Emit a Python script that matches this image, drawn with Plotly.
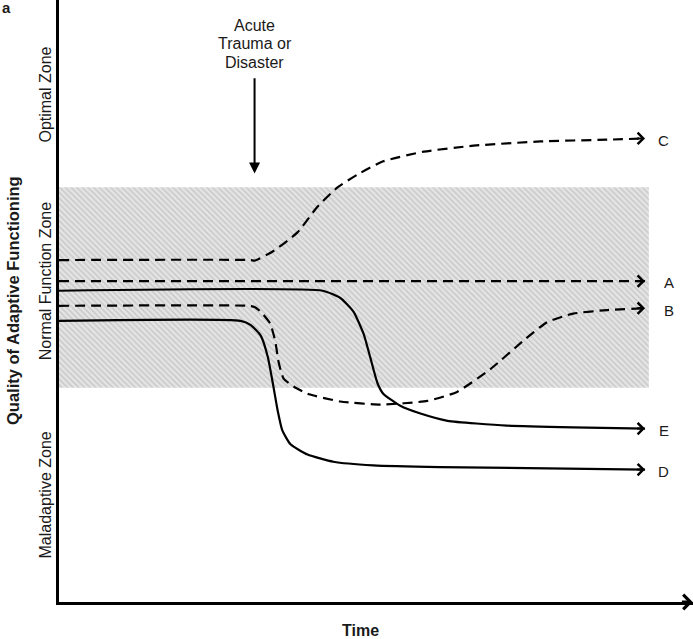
import plotly.graph_objects as go

# ---- data (time 0-100, quality 0-100) ----
c_t = [0, 30.4, 31.0, 34.0, 37.8, 41.0, 44.2, 47.3, 51.4, 57.8, 65.7, 76.3, 86.9, 92.9]
c_q = [56.8, 56.8, 56.7, 58.3, 61.4, 65.7, 68.9, 71.0, 73.2, 74.8, 75.8, 76.5, 76.8, 77.0]

a_t = [0, 92.9]
a_q = [53.3, 53.3]

b_t = [0, 30.0, 31.0, 32.0, 33.5, 34.3, 34.8, 35.6, 37.2, 39.4, 44.6, 51.0, 58.4, 63.1, 68.4, 73.6, 77.4, 81.5, 86.9, 92.9]
b_q = [49.2, 49.2, 49.0, 48.2, 46.2, 43.2, 39.9, 37.1, 35.8, 34.6, 33.3, 32.8, 33.4, 34.9, 38.7, 43.4, 46.5, 47.9, 48.5, 48.8]

e_t = [0, 41.8, 44.6, 46.7, 48.3, 49.4, 50.5, 51.4, 54.1, 57.3, 61.6, 71.0, 81.5, 92.9]
e_q = [51.7, 51.7, 50.5, 48.2, 44.5, 40.4, 36.3, 34.6, 32.6, 31.3, 30.1, 29.3, 29.0, 28.8]

d_t = [0, 28.8, 30.4, 32.0, 33.1, 33.9, 34.7, 35.4, 36.7, 39.4, 43.5, 49.8, 60.4, 92.9]
d_q = [46.7, 46.7, 46.0, 44.2, 40.7, 36.3, 31.6, 28.5, 26.2, 24.5, 23.3, 22.7, 22.4, 22.0]

band_t = [0, 93.5]
band_q = [35.6, 68.9]

curve_labels = ["C", "A", "B", "E", "D"]
label_t = [95.9, 96.7, 96.7, 95.9, 95.9]

event_t = 31.0
event_q = [87.25, 71.2]
event_lines = ["Acute", "Trauma or", "Disaster"]
event_line_q = [95.7, 92.7, 89.6]

zone_names = ["Optimal Zone", "Normal Function Zone", "Maladaptive Zone"]
zone_pos = [0.843, 0.533, 0.177]

FONT = "Liberation Sans, Arial, sans-serif"
TXT = "#1a1a1a"

fig = go.Figure()

# hatched normal-function band
fig.add_trace(go.Scatter(
    x=[band_t[0], band_t[1], band_t[1], band_t[0], band_t[0]],
    y=[band_q[0], band_q[0], band_q[1], band_q[1], band_q[0]],
    fill="toself", mode="lines", line=dict(width=0),
    fillcolor="rgba(0,0,0,0)",
    fillpattern=dict(shape="\\", fgcolor="#a8a8a8", bgcolor="#e4e4e4",
                     size=4, solidity=0.35),
    hoverinfo="skip", showlegend=False))

series = [
    (c_t, c_q, "dash"),
    (a_t, a_q, "dash"),
    (b_t, b_q, "dash"),
    (e_t, e_q, "solid"),
    (d_t, d_q, "solid"),
]
dash_style = "10px,6px"
for t, q, st in series:
    fig.add_trace(go.Scatter(
        x=t, y=q, mode="lines",
        line=dict(color="black", width=2.2,
                  dash=dash_style if st == "dash" else "solid",
                  shape="spline", smoothing=0.5),
        hoverinfo="skip", showlegend=False))

annotations = []
# arrowheads + end labels
for (t, q, st), lab, lt in zip(series, curve_labels, label_t):
    annotations.append(dict(
        x=t[-1], y=q[-1], xref="x", yref="y",
        ax=t[-1] - 1.5, ay=q[-1], axref="x", ayref="y",
        text="", showarrow=True, arrowhead=4, arrowsize=1.1,
        arrowwidth=2, arrowcolor="black", standoff=0, startstandoff=0))
    annotations.append(dict(
        x=lt, y=q[-1] - 0.3, xref="x", yref="y", text=lab, showarrow=False,
        xanchor="center", yanchor="middle",
        font=dict(family=FONT, size=15, color=TXT)))

# time axis arrowhead
annotations.append(dict(
    x=100.45, y=0, xref="x", yref="y", ax=98.5, ay=0, axref="x", ayref="y",
    text="", showarrow=True, arrowhead=4, arrowsize=1.0, arrowwidth=2.8,
    arrowcolor="black", standoff=0, startstandoff=0))

# event arrow
annotations.append(dict(
    x=event_t, y=event_q[1], xref="x", yref="y",
    ax=event_t, ay=event_q[0], axref="x", ayref="y",
    text="", showarrow=True, arrowhead=2, arrowsize=1.1, arrowwidth=2,
    arrowcolor="black", standoff=0, startstandoff=0))
for line, lq in zip(event_lines, event_line_q):
    annotations.append(dict(
        x=event_t, y=lq, xref="x", yref="y", text=line,
        xanchor="center", yanchor="middle",
        showarrow=False, font=dict(family=FONT, size=16, color=TXT)))

# zone labels
for name, zp in zip(zone_names, zone_pos):
    annotations.append(dict(
        x=-0.022, y=zp, xref="paper", yref="paper", text=name, textangle=-90,
        xanchor="center", yanchor="middle",
        showarrow=False, font=dict(family=FONT, size=16, color=TXT)))

annotations.append(dict(
    x=-0.0725, y=0.5, xref="paper", yref="paper",
    text="<b>Quality of Adaptive Functioning</b>",
    xanchor="center", yanchor="middle",
    textangle=-90, showarrow=False, font=dict(family=FONT, size=16.5, color=TXT)))
annotations.append(dict(
    x=0.476, y=-0.048, xref="paper", yref="paper", text="<b>Time</b>",
    xanchor="center", yanchor="middle",
    showarrow=False, font=dict(family=FONT, size=16, color=TXT)))
annotations.append(dict(
    x=-0.083, y=0.988, xref="paper", yref="paper", text="<b>a</b>",
    xanchor="center", yanchor="middle",
    showarrow=False, font=dict(family=FONT, size=15, color=TXT)))

fig.update_layout(
    width=693, height=639,
    margin=dict(l=59, r=0, t=0, b=37),
    paper_bgcolor="white", plot_bgcolor="white",
    showlegend=False,
    annotations=annotations,
    xaxis=dict(range=[0, 100.5], showgrid=False, zeroline=False,
               showticklabels=False, ticks="", showline=True,
               linecolor="black", linewidth=2.6, fixedrange=True),
    yaxis=dict(range=[0, 100], showgrid=False, zeroline=False,
               showticklabels=False, ticks="", showline=True,
               linecolor="black", linewidth=2.6, fixedrange=True),
)

fig.write_html("out.html", config={"displayModeBar": False},
               post_script="document.body.style.margin='0';")
